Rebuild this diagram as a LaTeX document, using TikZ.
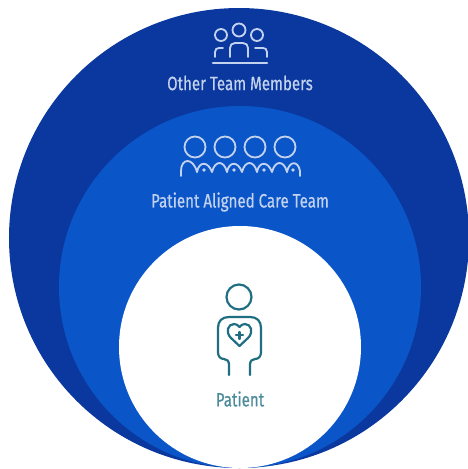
\documentclass[tikz,border=0pt]{standalone}
\usepackage{fontspec}
\usepackage{xcolor}
\setmainfont[FakeStretch=0.78,FakeBold=0.6]{Fira Sans}
\usetikzlibrary{arrows}
\definecolor{outerblue}{HTML}{0A389F}
\definecolor{midblue}{HTML}{0A55C8}
\definecolor{tealicon}{HTML}{1F6E82}
\definecolor{pale}{HTML}{C3D2EE}
\tikzstyle{disc}=[circle,inner sep=0pt,outer sep=0pt]
\tikzstyle{label}=[inner sep=0pt,font=\fontsize{11}{13}\selectfont]
\tikzstyle{icon}=[draw=pale,line width=1.05pt,line cap=round,line join=round]
\tikzstyle{tealline}=[draw=tealicon,line width=1.25pt,line cap=round,line join=round]

\begin{document}
\begin{tikzpicture}[x=0.2mm,y=-0.2mm]
        \useasboundingbox (0,0) rectangle (468,469);
        \node at (239,238) [disc,fill=outerblue,minimum size=92mm] (outer) {};
        \node at (240,287) [disc,fill=midblue,minimum size=72.4mm] (middle) {};
        \node at (240,347) [disc,fill=white,minimum size=48.4mm] (inner) {};
        \node at (240,83) [label,text=pale] (others) {Other Team Members};
        \node at (240,202) [label,text=pale] (pact) {Patient Aligned Care Team};
        \node at (240,399) [label,text=tealicon!80] (patient) {Patient};
        % other team members
        \draw [icon] (239,30) circle (6.5);
        \draw [icon] (221,35) circle (6);
        \draw [icon] (257,35) circle (6);
        \draw [icon] (230,57) -- (230,48) .. controls (230,45) and (232,43) .. (235,43) -- (243,43) .. controls (246,43) and (248,45) .. (248,48) -- (248,57);
        \draw [icon] (215,57) -- (215,52) .. controls (215,49) and (217,48) .. (219,48) -- (223,48);
        \draw [icon] (267,57) -- (267,52) .. controls (267,49) and (265,48) .. (263,48) -- (255,48);
        \draw [icon,line width=1.5pt] (213,63) -- (267,63);
        % care team
        \foreach \x in {195,225,255,285}
          \draw [icon] (\x,147) circle (10.5);
        \draw [icon] (181,176) -- (181,171) .. controls (181,158) and (193,157) .. (197,172);
        \foreach \x in {197,227,257} {
          \draw [icon] (\x,172) .. controls (\x+2,161) and (\x+11,161) .. (\x+15,172)
            .. controls (\x+18,160) and (\x+27,160) .. (\x+30,172);
          \fill [pale] (\x+7,170) circle (1.8);
        }
        \draw [icon] (287,172) .. controls (289,161) and (298,160) .. (300,171) -- (300,176);
        \fill [pale] (293,170) circle (1.8);
        % patient figure
        \draw [tealline] (239,297) circle (12.5);
        \draw [tealline] (229,375) -- (229,365) .. controls (229,361) and (227,359) .. (224,359)
          .. controls (220,359) and (218,356) .. (218,352)
          -- (218,328) .. controls (218,321) and (222,317) .. (229,317) -- (250,317)
          .. controls (257,317) and (261,321) .. (261,328) -- (261,352)
          .. controls (261,356) and (259,359) .. (255,359)
          .. controls (252,359) and (250,361) .. (250,365) -- (250,375);
        \draw [tealline] (239.5,346) -- (231,338) .. controls (225,332) and (228,324) .. (234,324)
          .. controls (236,324) and (238,325) .. (239.5,327)
          .. controls (241,325) and (243,324) .. (245,324)
          .. controls (251,324) and (254,332) .. (248,338) -- cycle;
        \draw [tealline] (239.5,332) -- (239.5,339) (236,335) -- (243,335);
      \end{tikzpicture}
\end{document}
